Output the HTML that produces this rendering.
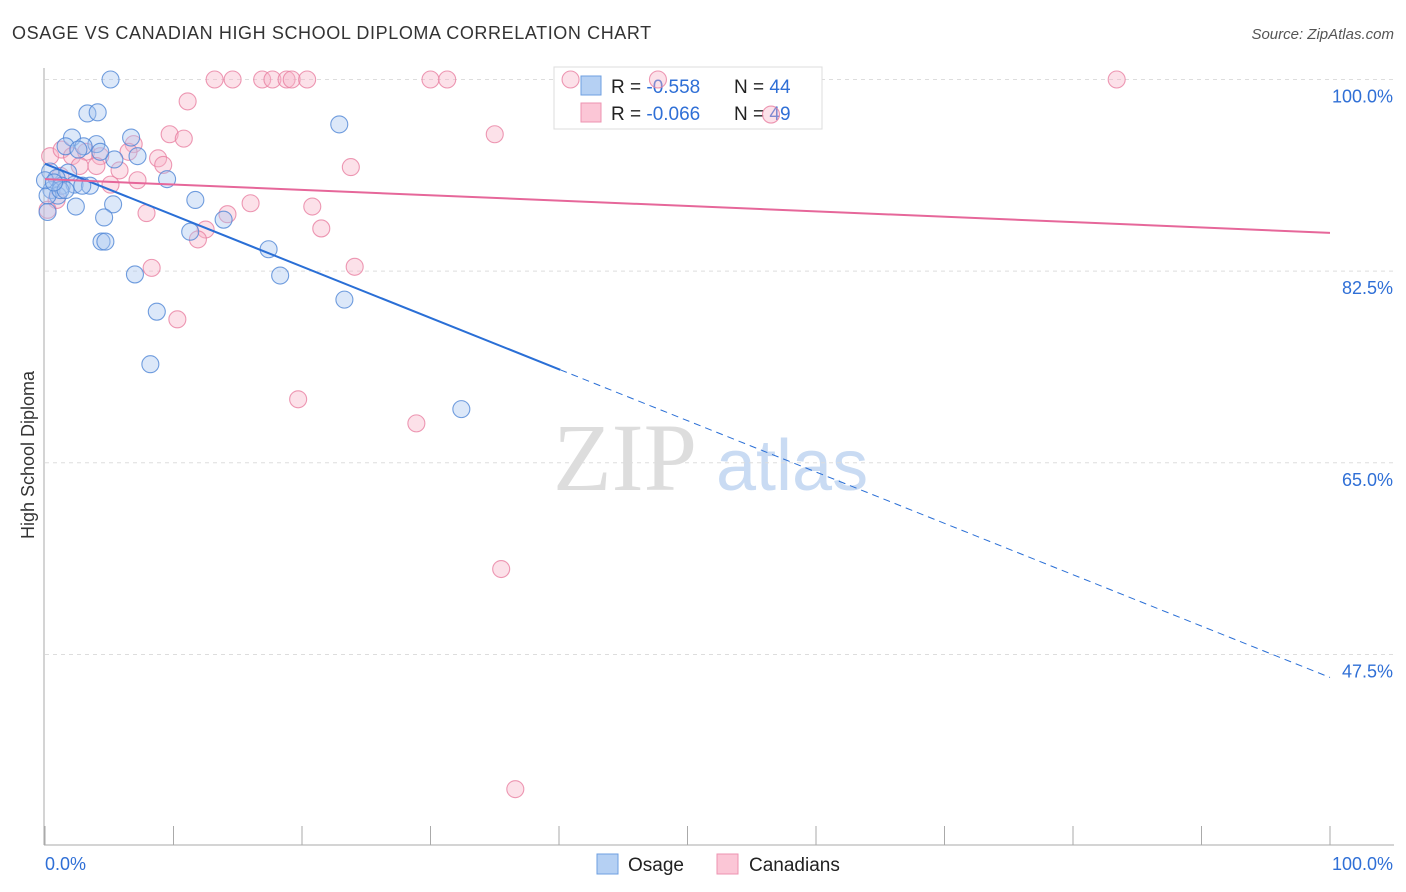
<!DOCTYPE html>
<html><head><meta charset="utf-8"><style>
body{margin:0;background:#fff;font-family:"Liberation Sans",sans-serif;}
#wrap{position:relative;width:1406px;height:892px;overflow:hidden}
</style></head><body>
<div id="wrap">
<svg id="svg" width="1406" height="892" xmlns="http://www.w3.org/2000/svg">
<text x="12" y="39" font-size="18" letter-spacing="0.6" fill="#333">OSAGE VS CANADIAN HIGH SCHOOL DIPLOMA CORRELATION CHART</text>
<text x="1394" y="39" font-size="15" fill="#555" font-style="italic" text-anchor="end">Source: ZipAtlas.com</text>
<text transform="translate(34,455) rotate(-90)" font-size="18" fill="#333" text-anchor="middle">High School Diploma</text>
<g><text x="553" y="490" font-size="96" font-family="Liberation Serif,serif" fill="#ddd">ZIP</text><text x="716" y="490" font-size="72" fill="#c9dbf3">atlas</text></g>
<g id="grid"></g><g id="axes"></g>
<g>
<rect x="554" y="67" width="268" height="62" fill="#fff" stroke="#ddd"/>
<rect x="581" y="76" width="20" height="19" fill="#b5d0f3" stroke="#6e9fe0"/>
<rect x="581" y="103" width="20" height="19" fill="#fbc6d6" stroke="#ee93b0"/>
<text x="611" y="93" font-size="19" fill="#222">R = <tspan fill="#2f6fd6">-0.558</tspan><tspan x="734">N = </tspan><tspan fill="#2f6fd6">44</tspan></text>
<text x="611" y="120" font-size="19" fill="#222">R = <tspan fill="#2f6fd6">-0.066</tspan><tspan x="734">N = </tspan><tspan fill="#2f6fd6">49</tspan></text>
</g>
<g id="pts"></g><g id="lines"></g>
<g>
<rect x="597" y="854" width="21" height="20" fill="#b5d0f3" stroke="#6e9fe0"/>
<text x="628" y="871" font-size="19" fill="#222">Osage</text>
<rect x="717" y="854" width="21" height="20" fill="#fbc6d6" stroke="#ee93b0"/>
<text x="749" y="871" font-size="19" fill="#222">Canadians</text>
</g>
</svg></div>
<script>
const blueX=[5.1,3.3,4.1,22.9,2.1,6.7,1.6,4.0,3.0,2.6,7.2,5.4,0.4,1.8,0.9,1.3,2.3,3.5,0.5,1.0,0.2,9.5,11.7,5.3,2.4,0.2,4.6,13.9,11.3,4.4,4.7,17.4,7.0,18.3,23.3,8.7,8.2,32.4,0.0,1.2,2.9,1.6,4.3,0.7];
const blueY=[100,96.9,97.0,95.9,94.7,94.7,93.9,94.1,93.9,93.6,93.0,92.7,91.6,91.5,91.0,90.3,90.4,90.3,89.9,89.4,89.4,90.9,89.0,88.6,88.4,87.9,87.4,87.2,86.1,85.2,85.2,84.5,82.2,82.1,79.9,78.8,74.0,69.9,90.8,89.9,90.3,89.9,93.4,90.6];
const pinkX=[13.2,14.6,16.9,17.7,18.8,19.2,20.4,30.0,31.3,40.9,47.7,83.4,56.5,11.1,35.0,9.7,10.8,6.9,0.4,1.3,2.1,3.2,4.3,6.5,8.8,9.2,2.7,4.0,5.8,23.8,5.1,7.2,0.9,0.2,16.0,20.8,7.9,14.2,12.5,11.9,21.5,8.3,24.1,10.3,19.7,28.9,35.5,36.6,1.2];
const pinkY=[100,100,100,100,100,100,100,100,100,100,100,100,96.8,98.0,95.0,95.0,94.6,94.1,93.0,93.6,93.0,93.4,93.0,93.4,92.8,92.2,92.1,92.1,91.7,92.0,90.4,90.8,89.0,88.1,88.7,88.4,87.8,87.7,86.3,85.4,86.4,82.8,82.9,78.1,70.8,68.6,55.3,35.2,91.2];
const yTicks=[100,82.5,65,47.5];
const yTickLabels=["100.0%","82.5%","65.0%","47.5%"];
const xTicks=[0,10,20,30,40,50,60,70,80,90,100];
const blueTrend=[92.3,45.4]; const blueSolidEnd=40.1;
const pinkTrend=[90.9,86.0];
const X0=45,X1=1330,YTOP=79.5,YBOT=845,YMIN=30.1,YMAX=100;
const sx=v=>X0+(X1-X0)*v/100;
const sy=v=>YBOT-(YBOT-YTOP)*(v-YMIN)/(YMAX-YMIN);
const NS="http://www.w3.org/2000/svg";
function mk(tag,attrs,parent){const e=document.createElementNS(NS,tag);for(const k in attrs)e.setAttribute(k,attrs[k]);document.getElementById(parent).appendChild(e);return e;}
yTicks.forEach((t,i)=>{
 const g=mk('line',{x1:X0,x2:1394,y1:sy(t),y2:sy(t),stroke:'#ddd','stroke-dasharray':'4,4'},'grid');
 
 
 const l=mk('text',{x:1393,y:sy(t)+23,'font-size':18,fill:'#2f6fd6','text-anchor':'end'},'grid');
 l.textContent=yTickLabels[i];
 
 
});
const ax=mk('line',{x1:44,x2:44,y1:68,y2:YBOT,stroke:'#aaa'},'axes');


const bx=mk('line',{x1:44,x2:1394,y1:YBOT,y2:YBOT,stroke:'#aaa'},'axes');


xTicks.forEach(t=>{
 const k=mk('line',{x1:sx(t),x2:sx(t),y1:826,y2:YBOT,stroke:'#aaa'},'axes');
 
 
});
const xl0=mk('text',{x:45,y:870,'font-size':18,fill:'#2f6fd6'},'axes');xl0.textContent='0.0%';


const xl1=mk('text',{x:1393,y:870,'font-size':18,fill:'#2f6fd6','text-anchor':'end'},'axes');xl1.textContent='100.0%';


function pts(xs,ys,fill,stroke,name){xs.forEach((x,i)=>{const c=mk('circle',{cx:sx(x),cy:sy(ys[i]),r:8.5,fill:fill,'fill-opacity':0.4,stroke:stroke,'stroke-opacity':0.8,'stroke-width':1.1},'pts');
 
 });}
pts(pinkX,pinkY,'#f7b3c8','#e97fa1','canadians-point');
pts(blueX,blueY,'#a7c6f0','#4f86d6','osage-point');
const ly=v=>blueTrend[0]+(blueTrend[1]-blueTrend[0])*v/100;
const b1=mk('line',{x1:sx(0),y1:sy(ly(0)),x2:sx(blueSolidEnd),y2:sy(ly(blueSolidEnd)),stroke:'#2a6fd6','stroke-width':2},'lines');


const b2=mk('line',{x1:sx(blueSolidEnd),y1:sy(ly(blueSolidEnd)),x2:sx(100),y2:sy(ly(100)),stroke:'#2a6fd6','stroke-width':1,'stroke-dasharray':'7,5'},'lines');


const p1=mk('line',{x1:sx(0),y1:sy(pinkTrend[0]),x2:sx(100),y2:sy(pinkTrend[1]),stroke:'#e6679a','stroke-width':2},'lines');


</script>
</body></html>
